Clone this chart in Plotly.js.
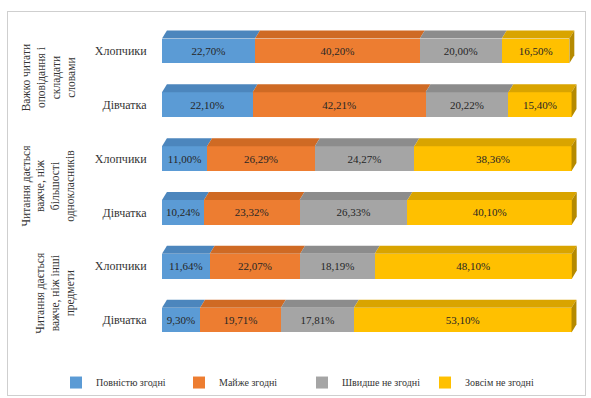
<!DOCTYPE html>
<html>
<head>
<meta charset="utf-8">
<script src="https://cdn.plot.ly/plotly-3.0.1.min.js"></script>
<style>
html,body{margin:0;padding:0;background:#fff;}
#wrap{position:relative;width:591px;height:398px;}
#chart{width:591px;height:398px;}
#frame{position:absolute;left:7px;top:11px;width:577px;height:383px;border:1px solid #cfcfcf;pointer-events:none;}
</style>
</head>
<body>
<div id="wrap"><div id="chart"></div><div id="frame"></div></div>
<script>
const rowLabels = ["Хлопчики","Дівчатка","Хлопчики","Дівчатка","Хлопчики","Дівчатка"];
const groupLabels = [
  "Важко читати<br>оповідання і<br>складати<br>словами",
  "Читання дається<br>важче, ніж<br>більшості<br>однокласників",
  "Читання дається<br>важче, ніж інші<br>предмети"
];
const seriesNames = ["Повністю згодні","Майже згодні","Швидше не згодні","Зовсім не згодні"];
const fullyAgree   = [22.70, 22.10, 11.00, 10.24, 11.64, 9.30];
const mostlyAgree  = [40.20, 42.21, 26.29, 23.32, 22.07, 19.71];
const ratherNot    = [20.00, 20.22, 24.27, 26.33, 18.19, 17.81];
const notAtAll     = [16.50, 15.40, 38.36, 40.10, 48.10, 53.10];

const series = [fullyAgree, mostlyAgree, ratherNot, notAtAll];
const colors = ["#5B9BD5","#ED7D31","#A5A5A5","#FFC000"];
const topColors = ["#4C86BD","#CF6A24","#8C8C8C","#D9A400"];
const sideColor = "#B58A00";
const pos = rowLabels.map((_, i) => i);
const barW = 0.46;
const dx = 1.2, dy = 0.15;

const fmt = v => v.toFixed(2).replace('.', ',') + '%';

const traces = series.map((vals, j) => ({
  type: 'bar', orientation: 'h', name: seriesNames[j],
  x: vals, y: pos, width: barW,
  marker: {color: colors[j]},
  text: vals.map(fmt), textposition: 'inside', insidetextanchor: 'middle',
  textangle: 0,
  textfont: {family: 'Liberation Serif', size: 11, color: '#262626'},
  hoverinfo: 'skip'
}));

const shapes = [];
pos.forEach(i => {
  let x0 = 0;
  const yTop = i - barW / 2, yBot = i + barW / 2;
  series.forEach((vals, j) => {
    const x1 = x0 + vals[i];
    shapes.push({type: 'path', xref: 'x', yref: 'y', layer: 'above',
      path: `M ${x0},${yTop} L ${x1},${yTop} L ${x1 + dx},${yTop - dy} L ${x0 + dx},${yTop - dy} Z`,
      fillcolor: topColors[j], line: {width: 0}});
    x0 = x1;
  });
  shapes.push({type: 'path', xref: 'x', yref: 'y', layer: 'above',
    path: `M ${x0},${yTop} L ${x0 + dx},${yTop - dy} L ${x0 + dx},${yBot - dy} L ${x0},${yBot} Z`,
    fillcolor: sideColor, line: {width: 0}});
});

const plotW = 416, left = 162;
const annotations = groupLabels.map((t, g) => ({
  text: t, textangle: -90, showarrow: false,
  xref: 'paper', yref: 'y', x: (79 - left) / plotW, xanchor: 'right',
  y: g * 2 + 0.5, yanchor: 'middle', align: 'center',
  font: {family: 'Liberation Serif', size: 11.5, color: '#333'}
}));

const layout = {
  width: 591, height: 398,
  margin: {l: left, r: 591 - left - plotW, t: 23.5, b: 50.5, autoexpand: false},
  paper_bgcolor: '#fff', plot_bgcolor: '#fff',
  barmode: 'stack', showlegend: true,
  xaxis: {range: [0, 101.5], visible: false, fixedrange: true},
  yaxis: {range: [5.5, -0.5], tickvals: pos, ticktext: rowLabels,
    ticks: 'outside', ticklen: 12, tickcolor: 'rgba(0,0,0,0)',
    showgrid: false, zeroline: false, showline: false, automargin: false,
    tickfont: {family: 'Liberation Serif', size: 12, color: '#333'}},
  legend: {orientation: 'h', x: (56 - left) / plotW, xanchor: 'left',
    y: -0.11, yanchor: 'middle', font: {family: 'Liberation Serif', size: 10, color: '#333'},
    itemwidth: 30, entrywidth: 78, entrywidthmode: 'pixels', tracegroupgap: 0, traceorder: 'normal'},
  shapes: shapes, annotations: annotations
};
Plotly.newPlot('chart', traces, layout, {displayModeBar: false, staticPlot: true});
</script>
</body>
</html>
